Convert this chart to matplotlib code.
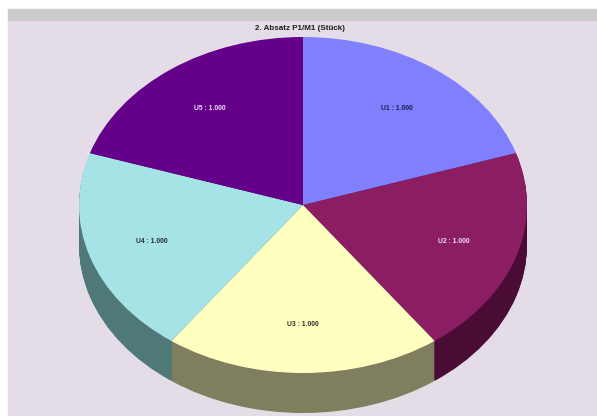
import numpy as np
import matplotlib
matplotlib.use("Agg")
import matplotlib.pyplot as plt
from matplotlib.patches import Rectangle

# ---- data ----
categories = ["U1", "U2", "U3", "U4", "U5"]
values = [1000, 1000, 1000, 1000, 1000]
title = "2. Absatz P1/M1 (Stück)"

top_colors = ["#8080FF", "#8B1D63", "#FFFFC0", "#A6E3E6", "#65008A"]
side_colors = ["#40408A", "#4A0C34", "#7F7F5F", "#4F7878", "#330045"]
label_colors = ["#1A1A50", "#F0E0F0", "#303030", "#203040", "#F0E0F0"]

W, H = 597, 416
fig = plt.figure(figsize=(W / 100, H / 100), dpi=100)
fig.patch.set_facecolor("white")

# background panels (figure pixel coords, y from top)
def frect(x0, y0, x1, y1, color):
    fig.patches.append(Rectangle((x0 / W, 1 - y1 / H), (x1 - x0) / W, (y1 - y0) / H,
                                 transform=fig.transFigure, color=color, zorder=-5))

frect(8, 20, W, H, "#E4DCE6")
frect(8, 9, W, 20, "#CBCBCB")

ax = fig.add_axes([0, 0, 1, 1])
ax.set_zorder(1)
ax.patch.set_alpha(0)

cx, cy = 303, 205   # pixel center (from top)
rx, ry = 224, 168   # ellipse radii in pixels
depth = 40

labels = [f"{c} : {v:,.0f}".replace(",", ".") for c, v in zip(categories, values)]

# side (stacked layers)
for k in range(depth, 0, -1):
    ax.pie(values, colors=side_colors, startangle=90, counterclock=False,
           center=(0, -k / ry), radius=1,
           wedgeprops=dict(linewidth=0, antialiased=True))

wedges, texts = ax.pie(values, labels=labels, colors=top_colors, startangle=90,
                       counterclock=False, center=(0, 0), radius=1,
                       labeldistance=0.71,
                       wedgeprops=dict(linewidth=0),
                       textprops=dict(ha="center", va="center", fontsize=4.9,
                                      fontweight="bold", family="Liberation Sans"))
for t, c in zip(texts, label_colors):
    t.set_color(c)

ax.set_aspect("auto")
ax.set_xlim(-cx / rx, (W - cx) / rx)
ax.set_ylim(-(H - cy) / ry, cy / ry)
ax.axis("off")

fig.text(300 / W, 1 - 28 / H, title, ha="center", va="center", fontsize=5.8,
         fontweight="bold", family="Liberation Sans", color="#202020", zorder=3)

fig.savefig("out.png", dpi=100, facecolor=fig.get_facecolor())
